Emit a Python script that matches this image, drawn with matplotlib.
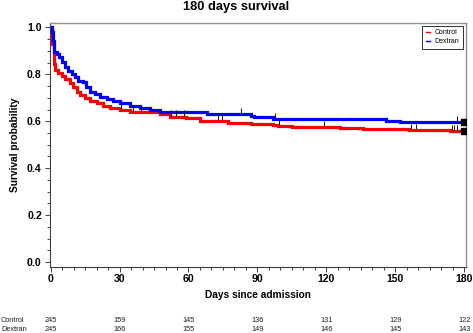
import numpy as np
import matplotlib
matplotlib.use("Agg")
import matplotlib.pyplot as plt

plt.rcParams['font.family'] = ['Liberation Sans', 'DejaVu Sans']

# Kaplan-Meier step data (time of step, survival from that time on)
ctrl_t = [0, 0.3, 0.8, 1.3, 2.0, 3.4, 4.8, 6.2, 8.4, 9.9, 11.3, 12.8, 14.9, 17.1, 20.0, 22.9,
          25.8, 30.2, 34.6, 39.0, 47.6, 52.0, 59.0, 65.0, 77.0, 87.0, 97.0, 99.0, 105.0, 126.0,
          136.0, 156.0, 174.0]
ctrl_s = [1.0, 0.976, 0.93, 0.845, 0.818, 0.804, 0.793, 0.779, 0.764, 0.745, 0.726, 0.712, 0.698,
          0.686, 0.677, 0.665, 0.655, 0.648, 0.641, 0.638, 0.631, 0.620, 0.613, 0.603, 0.594, 0.589,
          0.583, 0.580, 0.577, 0.572, 0.566, 0.563, 0.559]
dext_t = [0, 0.5, 1.0, 1.6, 2.6, 3.7, 4.8, 6.2, 7.7, 9.1, 10.6, 12.0, 14.2, 15.5, 17.1, 19.3,
          21.5, 24.4, 27.3, 30.2, 34.6, 39.0, 43.3, 47.6, 68.0, 87.0, 88.5, 97.0, 116.0, 146.0, 152.0]
dext_s = [1.0, 0.98, 0.94, 0.896, 0.885, 0.872, 0.854, 0.832, 0.815, 0.801, 0.787, 0.773, 0.769,
          0.747, 0.726, 0.715, 0.705, 0.694, 0.688, 0.677, 0.665, 0.655, 0.648, 0.641, 0.631, 0.624,
          0.617, 0.611, 0.608, 0.603, 0.597]

# censoring times
ctrl_cens = [30.5, 36, 39.5, 52.5, 54.5, 58, 73, 74.5, 99.5, 119, 157, 159, 174.5, 175.5, 177]
dext_cens = [83, 97.5, 177]
end_time = 180

# number at risk table
risk_times = [0, 30, 60, 90, 120, 150, 180]
risk_ctrl = [245, 159, 145, 136, 131, 129, 122]
risk_dext = [245, 166, 155, 149, 146, 145, 143]

W, H = 473, 333
fig = plt.figure(figsize=(W / 100, H / 100), dpi=100)
ax = fig.add_axes([49.5 / W, (H - 266.7) / H, (466 - 49.5) / W, (266.7 - 22.7) / H])


def surv_at(tt, ts, x):
    idx = np.searchsorted(np.asarray(tt), np.asarray(x), side='right') - 1
    return np.asarray(ts)[idx]


for tt, ts, cens, col, lab in [(ctrl_t, ctrl_s, ctrl_cens, '#ff0000', 'Control'),
                               (dext_t, dext_s, dext_cens, '#0000ff', 'Dextran')]:
    ax.step(list(tt) + [end_time], list(ts) + [ts[-1]], where='post', color=col, lw=2.3,
            label=lab, solid_joinstyle='miter')
    cy = surv_at(tt, ts, cens)
    ax.vlines(cens, cy + 0.004, cy + 0.026, color='#101010', lw=0.7, zorder=4)
    ax.plot([end_time], [ts[-1]], 's', color='black', ms=4, zorder=5)

ax.set_xlim(-0.5, 180.8)
ax.set_ylim(-0.02, 1.02)
ax.set_xticks(risk_times)
ax.set_xticks(np.arange(0, 181, 5), minor=True)
ax.set_yticks(np.arange(0, 1.01, 0.2))
ax.set_yticklabels([f"{v:.1f}" for v in np.arange(0, 1.01, 0.2)])
ax.set_yticks(np.arange(0, 1.01, 0.05), minor=True)
ax.tick_params(axis='both', which='major', length=3.5, width=0.7, labelsize=7.6, pad=2,
               color='#404040')
ax.tick_params(axis='both', which='minor', length=2.5, width=0.7, color='#404040')
for lbl in ax.get_xticklabels() + ax.get_yticklabels():
    lbl.set_fontweight('bold')

for s in ['left', 'bottom']:
    ax.spines[s].set_color('#404040')
    ax.spines[s].set_linewidth(0.8)
for s in ['top', 'right']:
    ax.spines[s].set_color('#909090')
    ax.spines[s].set_linewidth(1.0)

ax.set_xlabel('Days since admission', fontsize=7.3, fontweight='bold', labelpad=4)
ax.set_ylabel('Survival probability', fontsize=7.3, fontweight='bold', labelpad=5)
fig.text(0.5, 1 - 7 / H, '180 days survival', ha='center', va='center', fontsize=9.3,
         fontweight='bold')

leg = ax.legend(loc='upper right', fontsize=5, handlelength=0.7, handletextpad=0.6,
                fancybox=False, edgecolor='#303030', borderaxespad=0.45, borderpad=0.5,
                labelspacing=0.3, framealpha=1)
leg.get_frame().set_linewidth(0.7)
for h in leg.get_lines():
    h.set_linewidth(1.0)

# number at risk
trans = matplotlib.transforms.blended_transform_factory(ax.transData, fig.transFigure)
for row, vals, yp in [('Control', risk_ctrl, 320), ('Dextran', risk_dext, 329.3)]:
    fig.text(1 / W, 1 - yp / H, row, ha='left', va='center', fontsize=5.3, color='#202020')
    for t, v in zip(risk_times, vals):
        ax.text(t, 1 - yp / H, str(v), transform=trans, ha='center', va='center',
                fontsize=5.3, color='#202020', clip_on=False)

fig.savefig('out.png', dpi=100, facecolor='white')
